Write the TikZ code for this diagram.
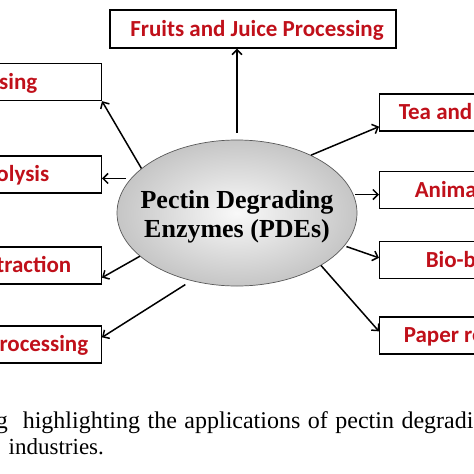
\documentclass[tikz,border=0pt]{standalone}
\usepackage{fontspec}
\setmainfont{Liberation Serif}
\newfontfamily\boxfont{Carlito}
\usetikzlibrary{shapes.geometric, arrows.meta}
\definecolor{appred}{RGB}{192,16,26}

\begin{document}
\begin{tikzpicture}[x=1pt, y=-1pt, line width=1.5pt]
        \tikzset{
            -{Straight Barb[length=5pt, width=10pt]}, % open arrow heads
            app_box/.style={draw, line width=1.3pt, minimum width=190pt, minimum height=37pt, inner sep=0pt}, % the application boxes
            app_text/.style={font=\boxfont\bfseries\fontsize{23}{27}\selectfont, text=appred, inner sep=0pt}, % red box labels
            caption_text/.style={inner sep=0pt, anchor=base west},
            }

        \useasboundingbox (0,0) rectangle (474,474);
        \clip (0,0) rectangle (474,474);

        % centre node
        \node[ellipse, draw=gray!70!black, line width=0.7pt, inner color=gray!5, outer color=gray!45, minimum width=240pt, minimum height=146pt] (pde) at (237,213) {};
        \node[align=center, font=\bfseries\fontsize{26}{29}\selectfont] (pde_text) at (237,217) {Pectin Degrading\\Enzymes (PDEs)};

        % top box
        \node[app_box, minimum width=286pt, minimum height=38pt] (fruit_box) at (253,29) {};
        \node[app_text, anchor=base] (fruit_text) at (257,36) {Fruits and Juice Processing};

        % left boxes
        \node[app_box, anchor=east] (l1_box) at (102,82) {};
        \node[app_text, anchor=base east] (l1_text) at (38,89) {sing};
        \node[app_box, anchor=east] (l2_box) at (102,174.5) {};
        \node[app_text, anchor=base east] (l2_text) at (50,181.5) {olysis};
        \node[app_box, anchor=east] (l3_box) at (102,265.5) {};
        \node[app_text, anchor=base east] (l3_text) at (72,272.5) {traction};
        \node[app_box, anchor=east] (l4_box) at (102,344.5) {};
        \node[app_text, anchor=base east] (l4_text) at (89,351.5) {rocessing};

        % right boxes
        \node[app_box, anchor=west] (r1_box) at (379,112.5) {};
        \node[app_text, anchor=base west] (r1_text) at (398,119.5) {Tea and};
        \node[app_box, anchor=west] (r2_box) at (379,190) {};
        \node[app_text, anchor=base west] (r2_text) at (414,197) {Anima};
        \node[app_box, anchor=west] (r3_box) at (379,260) {};
        \node[app_text, anchor=base west] (r3_text) at (425,267) {Bio-b};
        \node[app_box, anchor=west] (r4_box) at (379,335.5) {};
        \node[app_text, anchor=base west] (r4_text) at (403,342.5) {Paper re};

        % caption
        \node[caption_text, font=\fontsize{24}{30}\selectfont] (caption_one) at (-5,428) {\spaceskip=7.5pt g\ \ highlighting the applications of pectin degradin};
        \node[caption_text, font=\fontsize{23}{30}\selectfont] (caption_two) at (8,454) {industries.};

        % paths from the centre
        \draw[shorten <=7pt] (pde.north) -- (pde.north |- fruit_box.south);
        \draw (pde.155) -- (l1_box.south east);
        \draw[shorten <=5pt] (pde.162) -- (pde.162 -| l2_box.east);
        \draw (pde.204) -- ([yshift=7pt]l3_box.south east);
        \draw[shorten <=7pt] (pde.236) -- ([yshift=-12pt]l4_box.north east);
        \draw (pde.38) -- ([yshift=5pt]r1_box.south west);
        \draw[shorten <=2pt] (pde.9) -- (pde.9 -| r2_box.west);
        \draw[shorten <=2pt] (pde.-17) -- ([yshift=-17pt]r3_box.north west);
        \draw (pde.-32) -- ([yshift=-15pt]r4_box.north west);
    \end{tikzpicture}
\end{document}
